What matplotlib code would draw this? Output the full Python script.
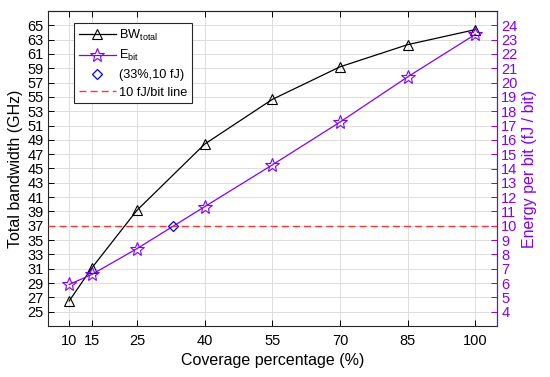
import matplotlib
matplotlib.use("Agg")
import matplotlib.pyplot as plt

plt.rcParams['font.family'] = ['Liberation Sans', 'DejaVu Sans']

coverage = [10, 15, 25, 40, 55, 70, 85, 100]
bw_total = [26.5, 31.1, 39.15, 48.4, 54.65, 59.2, 62.3, 64.4]
e_bit = [5.9, 6.6, 8.4, 11.33, 14.25, 17.24, 20.4, 23.37]
point_x = [33]
point_y = [10]
threshold = 10
left_ticks = list(range(25, 66, 2))
right_ticks = list(range(4, 25, 1))

purple = '#8000FF'

fig = plt.figure(figsize=(5.5, 3.77), dpi=100)
ax = fig.add_axes([48/550, 1-326/377, (497-48)/550, (326-11)/377])
ax2 = ax.twinx()

l1, = ax.plot(coverage, bw_total, color='black', lw=0.9, marker='^', ms=7.5,
              mfc='none', mec='black', mew=0.8, label='BW$_{\\mathregular{total}}$')
l2, = ax2.plot(coverage, e_bit, color=purple, lw=0.9, marker='*', ms=10,
               mfc='none', mec=purple, mew=0.8, label='E$_{\\mathregular{bit}}$')
l3, = ax2.plot(point_x, point_y, ls='none', marker='D', ms=5.5, mfc='none',
               mec='blue', mew=0.9, label='(33%,10 fJ)')
l4 = ax2.axhline(threshold, color='#FF3333', ls=(0, (5, 3)), lw=1.0,
                 label='10 fJ/bit line')

ax.set_xlim(5.3, 104.8)
ax.set_ylim(23, 67)
ax2.set_ylim(3, 25)
ax.set_xticks(coverage)
ax.set_yticks(left_ticks)
ax2.set_yticks(right_ticks)

ax.grid(True, color='#DDDDDD', lw=0.7)
ax.set_axisbelow(True)

ax.tick_params(axis='both', direction='in', labelsize=10.5, length=4,
               top=True, width=0.7, pad=3)
ax.tick_params(axis='x', pad=6)
ax2.tick_params(axis='y', direction='in', labelsize=10.5, length=4,
                colors=purple, width=0.7, pad=3)
for s in ['left', 'bottom', 'top']:
    ax.spines[s].set_color('#262626')
    ax.spines[s].set_linewidth(0.8)
ax2.spines['right'].set_color(purple)
ax2.spines['right'].set_linewidth(0.8)
ax2.spines['left'].set_visible(False)
ax2.spines['top'].set_color('#262626')
ax2.spines['top'].set_linewidth(0.8)
ax2.spines['bottom'].set_visible(False)

ax.set_xlabel('Coverage percentage (%)', fontsize=11.5, labelpad=3)
ax.set_ylabel('Total bandwidth (GHz)', fontsize=11.5, labelpad=3)
ax2.set_ylabel('Energy per bit (fJ / bit)', fontsize=11.5, color=purple, labelpad=3)

leg = ax2.legend(handles=[l1, l2, l3, l4], loc='upper left',
                 bbox_to_anchor=(0.058, 0.962), fontsize=9.2,
                 frameon=True, fancybox=False, framealpha=1,
                 edgecolor='#262626', handlelength=2.9, handletextpad=0.3,
                 borderpad=0.35, labelspacing=0.45, borderaxespad=0)
leg.get_frame().set_linewidth(0.8)

fig.savefig('out.png', dpi=100)
